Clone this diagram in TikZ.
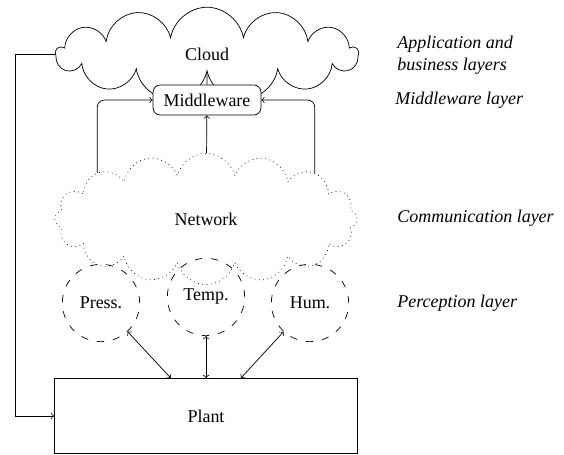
\documentclass[tikz,border=0pt]{standalone}
\usepackage{fontspec}
\setmainfont{Liberation Serif}
\usetikzlibrary{shapes.symbols}

\begin{document}
\begin{tikzpicture}[x=0.556pt, y=-0.556pt,
  sky/.style = {draw, cloud, cloud puffs=13, cloud puff arc=160, minimum width=168pt, minimum height=52pt},
  net/.style = {draw, cloud, dotted, cloud puffs=16, cloud puff arc=150, minimum width=168pt, minimum height=73pt},
  sensor/.style = {draw, circle, dash pattern=on 4pt off 5pt, minimum size=43pt, inner sep=0pt},
  mid/.style = {draw, rounded corners=4pt, fill=white, minimum width=60pt, minimum height=16.7pt},
  layer/.style = {anchor=west, align=left, font=\itshape}]
\useasboundingbox (0,0) rectangle (564,455);
\node[sky] (cloud) at (207,54) {Cloud};
\node[mid] (mw) at (207,100) {Middleware};
\node[net] (network) at (206,219) {Network};
\node[sensor] (press) at (101,303) {Press.};
\node[sensor] (temp) at (206,297) {Temp.};
\node[sensor] (hum) at (310,303) {Hum.};
\node[draw, minimum width=168.5pt, minimum height=41.7pt] (plant) at (206,416) {Plant};
\coordinate (fb) at (15,416);
% layers
\node[layer] at (391,55) {Application and\\business layers};
\node[layer] at (389,100) {Middleware layer};
\node[layer] at (391,218) {Communication layer};
\node[layer] at (391,303) {Perception layer};
% connectors
\draw (mw) -- (cloud);
\draw[->] (network) -- (mw);
\draw[->, rounded corners=4pt] (network.157) |- (mw.west);
\draw[->, rounded corners=4pt] (network.23) |- (mw.east);
\draw[<->] (press) -- (plant);
\draw[<->] (temp) -- (plant);
\draw[<->] (hum) -- (plant);
\draw[->] (cloud.west) -| (fb) -- (plant.west);
\end{tikzpicture}
\end{document}
